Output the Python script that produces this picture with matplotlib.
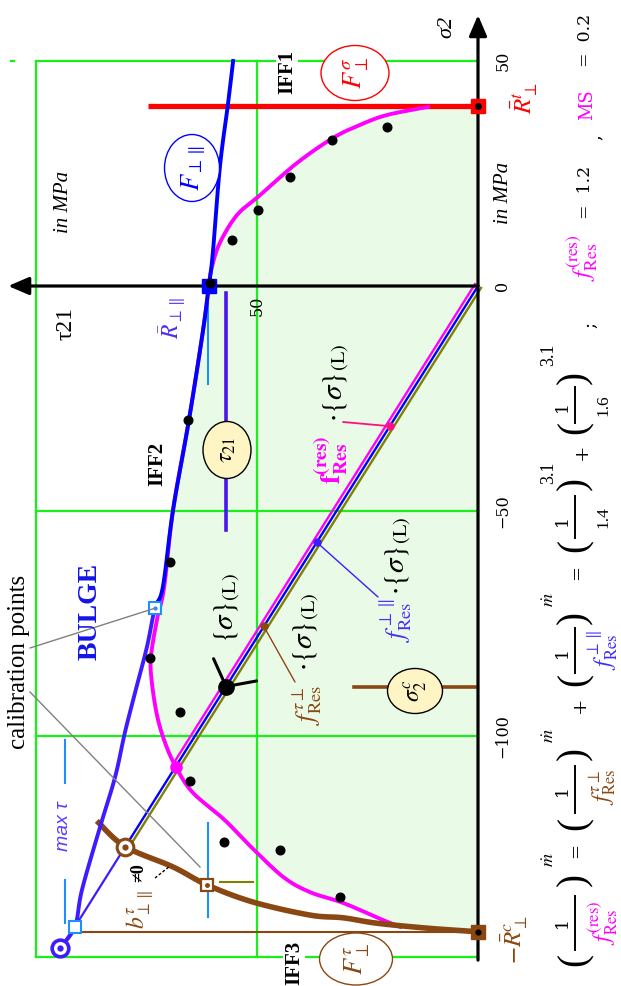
import numpy as np
import matplotlib
matplotlib.use("Agg")
import matplotlib.pyplot as plt
import matplotlib.transforms as mtr
from matplotlib.patches import Ellipse, Polygon
from matplotlib.lines import Line2D

plt.rcParams['font.family'] = ['Liberation Serif', 'DejaVu Serif']
plt.rcParams['mathtext.fontset'] = 'stix'

# ---------------- strengths, load and results (MPa) ----------------
R_perp_t = 40.0        # transverse tensile strength
R_perp_c = 143.5       # transverse compressive strength
R_perp_par = 61.0      # in-plane shear strength
load_tau21 = 57.0      # applied stress state {sigma}(L)
load_sigma2 = -89.0
f_res = 1.2
f_tau_perp = 1.4
f_perp_par = 1.6
m_exp = 3.1
MS = 0.2

sigma2_ticks = [50, 0, -50, -100]
tau21_ticks = [50]
grid_tau21 = [50, 100]
grid_sigma2 = [50, -50, -100, -149]

# test data
test_tau21 = [20.7, 33.1, 42.5, 49.7, 55.7, 60.6, 65.5, 69.7, 74.2, 67.4, 65.2, 57.5, 44.8, 31.2]
test_sigma2 = [35.4, 32.4, 24.3, 16.9, 10.2, 0.6, -29.8, -61.3, -82.7, -94.7, -110.0, -123.6, -125.3, -135.8]

# IFF2 fracture curve (F_perp_par)
iff2_tau21 = [55.4, 56.6, 58.4, 60.0, 60.9, 62.2, 65.4, 69.0, 71.3, 73.1, 74.9, 77.6, 79.9, 82.1, 85.5, 89.6, 91.2, 94.6]
iff2_sigma2 = [50.0, 40.2, 26.4, 7.3, 0.0, -9.8, -29.8, -49.8, -66.9, -71.6, -80.2, -90.4, -99.3, -109.1, -120.2, -134.2, -142.4, -147.1]

# interaction (residual) curve
res_tau21 = [11.3, 20.6, 26.7, 32.8, 41.0, 49.3, 54.5, 58.4, 60.2, 60.9, 62.2, 65.4, 69.0, 71.0, 72.6, 74.0, 73.8, 72.6, 70.8, 68.4, 64.6, 57.5, 51.6, 44.1, 38.0, 30.5, 21.5, 17.6]
res_sigma2 = [39.8, 38.0, 35.8, 32.9, 27.3, 20.2, 15.8, 9.6, 4.2, 0.0, -9.8, -29.8, -49.8, -66.9, -74.0, -82.4, -88.0, -95.5, -101.5, -106.8, -112.5, -118.5, -124.4, -131.3, -134.7, -137.1, -140.9, -142.4]

# IFF3 fracture curve (F_perp_tau)
iff3_tau21 = [85.8, 79.8, 69.0, 61.3, 50.9, 38.0, 30.5, 22.9, 11.5, 0.0]
iff3_sigma2 = [-119.3, -124.6, -129.1, -133.1, -136.9, -139.8, -140.4, -141.6, -142.7, -143.5]

# ---------------- colours ----------------
GREEN = '#19f019'
FILL = '#e9fbe6'
MAG = '#ff00ff'
BLUE = '#0000ff'
VIOLET = '#3d1cff'
BROWN = '#8a4712'
OLIVE = '#808000'
LBLUE = '#1e8fff'
RED = '#ff0000'
YEL = '#fff5c4'
DVS = 'DejaVu Serif'

W, H = 621, 986
fig = plt.figure(figsize=(W / 100, H / 100), dpi=100)
ax = fig.add_axes([0, 0, 1, 1])
ax.set_xlim(478 / 4.42, (478 - W) / 4.42)     # tau21 grows to the left
ax.set_ylim((286 - H) / 4.5, 286 / 4.5)
ax.axis('off')


def smooth(xs, ys, n=10):
    p = np.column_stack([xs, ys]).astype(float)
    out = []
    for i in range(len(p) - 1):
        p0 = p[i - 1] if i > 0 else p[i]
        p1, p2 = p[i], p[i + 1]
        p3 = p[i + 2] if i + 2 < len(p) else p[i + 1]
        for t in np.linspace(0, 1, n, endpoint=False):
            out.append(0.5 * (2 * p1 + (-p0 + p2) * t + (2 * p0 - 5 * p1 + 4 * p2 - p3) * t ** 2
                              + (-p0 + 3 * p1 - 3 * p2 + p3) * t ** 3))
    out.append(p[-1])
    out = np.array(out)
    return out[:, 0], out[:, 1]


def T(x, y, s, size=14, color='k', **kw):
    return fig.text(x / W, 1 - y / H, s, rotation=90, ha='center', va='center',
                    fontsize=size, color=color, **kw)


def E(x, y, w, h, ec, fc='white', lw=1.0):
    fig.add_artist(Ellipse((x / W, 1 - y / H), w / W, h / H, transform=fig.transFigure,
                           ec=ec, fc=fc, lw=lw, zorder=2.5))


def S(x1, y1, x2, y2, color='k', lw=1.0, ls='-'):
    fig.add_artist(Line2D([x1 / W, x2 / W], [1 - y1 / H, 1 - y2 / H], transform=fig.transFigure,
                          color=color, lw=lw, ls=ls, zorder=2.6))


def pointer(pt, x, y, color, lw=1.0, ls='-'):
    ax.annotate('', xy=pt, xycoords='data', xytext=(x / W, 1 - y / H), textcoords='figure fraction',
                arrowprops=dict(arrowstyle='-', color=color, lw=lw, ls=ls, shrinkA=0, shrinkB=0),
                zorder=9)


# ---------------- envelope fill ----------------
rt, rs = smooth(res_tau21, res_sigma2)
tail = [(t, s) for t, s in zip(iff3_tau21, iff3_sigma2) if t < res_tau21[-1]]
poly = [(0, R_perp_t)] + list(zip(rt, rs)) + tail
ax.add_patch(Polygon(poly, closed=True, fc=FILL, ec='none', zorder=1))

# ---------------- grid ----------------
for t in grid_tau21:
    ax.plot([t, t], [grid_sigma2[0], grid_sigma2[-1]], color=GREEN, lw=1.6, zorder=2)
for s in grid_sigma2:
    ax.plot([0, grid_tau21[-1]], [s, s], color=GREEN, lw=1.6, zorder=2)
ax.plot([105.0, 105.6], [50, 50], color=GREEN, lw=1.6, zorder=2)

# ---------------- axes ----------------
ax.annotate('', xy=(0, 60.2), xytext=(0, -149.8),
            arrowprops=dict(arrowstyle='-|>,head_length=0.7,head_width=0.3', lw=2.3, color='k',
                            shrinkA=0, shrinkB=0, mutation_scale=18), zorder=7)
ax.annotate('', xy=(106.3, 0), xytext=(0, 0),
            arrowprops=dict(arrowstyle='-|>,head_length=0.7,head_width=0.3', lw=2.3, color='k',
                            shrinkA=0, shrinkB=0, mutation_scale=18), zorder=7)

for v in sigma2_ticks:
    ax.text(-5.6, v, f'{v:g}'.replace('-', '\u2212'), rotation=90, ha='center', va='center',
            fontsize=11.5, family=DVS, zorder=9)
for v in tau21_ticks:
    ax.text(v, -4.4, f'{v:g}', rotation=90, ha='center', va='center', fontsize=11.5,
            family=DVS, zorder=9)

# ---------------- indicator lines ----------------
ax.plot([R_perp_par, R_perp_par], [-2.0, -21.8], color=LBLUE, lw=1.5, zorder=3)
ax.plot([R_perp_par, R_perp_par], [-119.3, -140.2], color=LBLUE, lw=1.5, zorder=3)
ax.plot([iff2_tau21[-1] - 1.2, iff2_tau21[-1] - 1.2], [-100.9, -110.5], color=LBLUE, lw=1.5, zorder=3)
ax.plot([iff2_tau21[-1] - 1.2, iff2_tau21[-1] - 1.2], [-132.0, -141.6], color=LBLUE, lw=1.5, zorder=3)
ax.plot([58.4, 50.9], [-132.4, -132.4], color=OLIVE, lw=1.5, zorder=3)
ax.plot([90.5, 0], [-R_perp_c, -R_perp_c], color=BROWN, lw=1.5, zorder=3)

# load components
ax.plot([load_tau21, load_tau21], [-1.5, -54.2], color='#4a14f0', lw=2.6, zorder=4)
ax.plot([28.0, 0.7], [load_sigma2, load_sigma2], color=BROWN, lw=2.6, zorder=4)

# ---------------- load paths ----------------
off_m = mtr.offset_copy(ax.transData, fig=fig, x=-3.0, y=1.9, units='dots')
off_o = mtr.offset_copy(ax.transData, fig=fig, x=3.0, y=-1.9, units='dots')
ax.plot([0, f_res * load_tau21], [0, f_res * load_sigma2], color=MAG, lw=1.7, zorder=4,
        transform=off_m)
ax.plot([0, f_tau_perp * load_tau21], [0, f_tau_perp * load_sigma2], color=OLIVE, lw=1.7, zorder=4,
        transform=off_o)
ax.plot([0, f_tau_perp * load_tau21], [0, f_tau_perp * load_sigma2], color=BLUE, lw=1.7, zorder=4.1)
ax.plot([f_tau_perp * load_tau21, f_perp_par * load_tau21, iff2_tau21[-1]],
        [f_tau_perp * load_sigma2, f_perp_par * load_sigma2, iff2_sigma2[-1]],
        color=VIOLET, lw=1.6, zorder=4.1)

# ---------------- fracture curves ----------------
ax.plot([74.7, 0], [R_perp_t, R_perp_t], color=RED, lw=3.8, zorder=5, solid_capstyle='butt')
ax.plot(rt, rs, color=MAG, lw=2.8, zorder=5)
bt, bs = smooth(iff3_tau21, iff3_sigma2)
ax.plot(bt, bs, color=BROWN, lw=4.0, zorder=5.5)
it, is_ = smooth(iff2_tau21, iff2_sigma2)
split = iff2_sigma2[9]
ax.plot(it[is_ >= split], is_[is_ >= split], color=BLUE, lw=2.8, zorder=6)
ax.plot(it[is_ <= split], is_[is_ <= split], color=VIOLET, lw=2.8, zorder=6)

# ---------------- test points ----------------
ax.plot(test_tau21, test_sigma2, 'o', color='k', ms=6.2, zorder=8, ls='none')

# ---------------- special markers ----------------
ax.plot(0, R_perp_t, 's', color=RED, ms=10, zorder=8)
ax.plot(0, R_perp_t, 'o', color='k', ms=4, zorder=8.5)
ax.plot(0, -R_perp_c, 's', color=BROWN, ms=10, zorder=8)
ax.plot(0, -R_perp_c, 'o', color='k', ms=3.5, zorder=8.5)
ax.plot(iff2_tau21[4], iff2_sigma2[4], 's', color=BLUE, ms=10, zorder=7.5)
ax.plot(iff2_tau21[9], iff2_sigma2[9], 's', mfc='white', mec=LBLUE, mew=1.5, ms=8.5, zorder=8)
ax.plot(iff2_tau21[9], iff2_sigma2[9], 'o', color=LBLUE, ms=2, zorder=8.5)
ax.plot(f_perp_par * load_tau21, f_perp_par * load_sigma2, 's', mfc='white', mec=LBLUE, mew=1.5,
        ms=8.5, zorder=8)
ax.plot(iff2_tau21[-1], iff2_sigma2[-1], 'o', mfc='white', mec=VIOLET, mew=2.6, ms=12, zorder=8)
ax.plot(iff2_tau21[-1], iff2_sigma2[-1], 'o', color=VIOLET, ms=3.5, zorder=8.5)
ax.plot(f_tau_perp * load_tau21, f_tau_perp * load_sigma2, 'o', mfc='white', mec=BROWN, mew=2.2,
        ms=12, zorder=8)
ax.plot(f_tau_perp * load_tau21, f_tau_perp * load_sigma2, 'o', color=BROWN, ms=3.5, zorder=8.5)
ax.plot(iff3_tau21[3], iff3_sigma2[3], 's', mfc='white', mec=BROWN, mew=1.6, ms=9, zorder=8)
ax.plot(iff3_tau21[3], iff3_sigma2[3], 'o', color=BROWN, ms=2.5, zorder=8.5)
ax.plot(f_res * load_tau21, f_res * load_sigma2, 'o', color=MAG, ms=8, zorder=8)

# applied stress state
ax.plot(load_tau21, load_sigma2, 'o', color='k', ms=11, zorder=8)
for dx, dy in [(-9, 20), (22, 4)]:
    ax.annotate('', xy=(load_tau21, load_sigma2), xytext=(dx, dy), textcoords='offset points',
                arrowprops=dict(arrowstyle='-', lw=2.2, color='k', shrinkA=0, shrinkB=0), zorder=8)

# pointers to the load paths
pm = (0.35 * load_tau21, 0.35 * load_sigma2)
pb = (0.64 * load_tau21, 0.64 * load_sigma2)
pr = (0.85 * load_tau21, 0.85 * load_sigma2)
pointer(pm, 343, 422, '#ff1080', lw=1.3)
ax.plot(*pm, 'o', color='#ff1080', ms=5, zorder=9)
pointer(pb, 378, 597, VIOLET, lw=1.0)
ax.plot(*pb, 'o', color=VIOLET, ms=5, zorder=9)
pointer(pr, 295, 682, BROWN, lw=1.0)
ax.plot(*pr, 'o', color=BROWN, ms=5, zorder=9)

# calibration pointers
pointer((iff2_tau21[9], iff2_sigma2[9]), 30, 648, '#808080', lw=1.0)
S(30, 692, 200, 867, color='#808080', lw=1.0)
S(155, 878, 170, 866, color='k', lw=1.0, ls=(0, (2, 1.5)))

# ---------------- labels ----------------
T(447, 27, 'σ2', 16, style='italic')
T(66, 323, 'τ21', 17)
T(503, 193, 'in MPa', 15, style='italic')
T(63, 202, 'in MPa', 15, style='italic')
T(287, 72, 'IFF1', 15, weight='bold', bbox=dict(fc='white', ec='none', pad=1))
T(157, 464, 'IFF2', 15, weight='bold')
T(294, 963, 'IFF3', 15, weight='bold', bbox=dict(fc='white', ec='none', pad=1))
T(90, 611, 'BULGE', 20, color='#1414e6', weight='bold')
T(19, 662, 'calibration points', 18)
T(525, 98, r'$\bar{R}_{\perp}^{t}$', 18, color=RED)
T(515, 940, r'$-\bar{R}_{\perp}^{c}$', 18, color=BROWN)
T(172, 318, r'$\bar{R}_{\perp\parallel}$', 17, color='#4f2cf5')
T(63, 826, 'max τ', 14, color='#5a3cff', style='italic', family='Liberation Sans')

E(355, 73, 68, 55, RED)
T(356, 73, r'$F_{\perp}^{\sigma}$', 19, color=RED)
E(192, 168, 55, 67, BLUE)
T(194, 168, r'$F_{\perp\parallel}$', 19, color=BLUE)
E(227, 450, 48, 57, 'k', fc=YEL)
T(228, 450, r'$\tau_{21}$', 17)
E(415, 691, 55, 45, 'k', fc=YEL)
T(415, 691, r'$\sigma_2^c$', 17)
E(356, 959, 73, 52, BROWN)
T(357, 959, r'$F_{\perp}^{\tau}$', 19, color=BROWN)

T(228, 608, r'$\{\sigma\}_{(\mathrm{L})}$', 21)
T(331, 460, r'$\mathbf{f}_{\mathbf{Res}}^{\mathbf{(res)}}$', 20, color=MAG)
T(337, 383, r'$\cdot\{\sigma\}_{(\mathrm{L})}$', 21)
T(396, 620, r'$f_{\mathrm{Res}}^{\perp\parallel}$', 19, color='#4f2cf5')
T(399, 556, r'$\cdot\{\sigma\}_{(\mathrm{L})}$', 21)
T(307, 705, r'$f_{\mathrm{Res}}^{\tau\perp}$', 19, color=BROWN)
T(307, 632, r'$\cdot\{\sigma\}_{(\mathrm{L})}$', 21)
T(140, 910, r'$b_{\perp\parallel}^{\tau}$', 17, color=BROWN)
T(139, 873, '≠0', 13, weight='bold')

# ---------------- interaction formula ----------------
PX = 575


def group(y_open, y_one, bar, den, den_color, y_den, y_close, exp, y_exp, dsize=17):
    T(PX, y_open, '(', 28)
    T(562, y_one, '1', 12.5, family=DVS)
    S(PX, bar[0], PX, bar[1], lw=1.4)
    T(603, y_den, den, dsize, color=den_color)
    T(PX, y_close, ')', 28)
    T(549, y_exp, exp, 13)


group(960, 923, (950, 896), r'$f_{\mathrm{Res}}^{\mathrm{(res)}}$', MAG, 923, 880, r'$\dot{m}$', 860)
T(576, 851, '=', 13, family=DVS)
group(823, 790, (813, 766), r'$f_{\mathrm{Res}}^{\tau\perp}$', BROWN, 787, 753, r'$\dot{m}$', 736)
T(580, 705, '+', 14, family=DVS)
group(680, 652, (673, 628), r'$f_{\mathrm{Res}}^{\perp\parallel}$', '#3b2cff', 650, 617, r'$\dot{m}$', 600)
T(577, 573, '=', 13, family=DVS)
group(545, 520, (538, 496), f'{f_tau_perp:g}', 'k', 517, 483, f'{m_exp:g}', 473, dsize=12.5)
T(582, 452, '+', 14, family=DVS)
group(428, 407, (423, 387), f'{f_perp_par:g}', 'k', 405, 377, f'{m_exp:g}', 355, dsize=12.5)
T(590, 325, ';', 13, family=DVS)
T(582, 258, r'$f_{\mathrm{Res}}^{\mathrm{(res)}}$', 18, color=MAG)
T(586, 192, f'=  {f_res:g}', 12.5, family=DVS)
T(595, 137, ',', 13, family=DVS)
T(587, 105, 'MS', 13, color=MAG, family=DVS)
T(586, 40, f'=  {MS:g}', 12.5, family=DVS)

fig.savefig('out.png', dpi=100)
